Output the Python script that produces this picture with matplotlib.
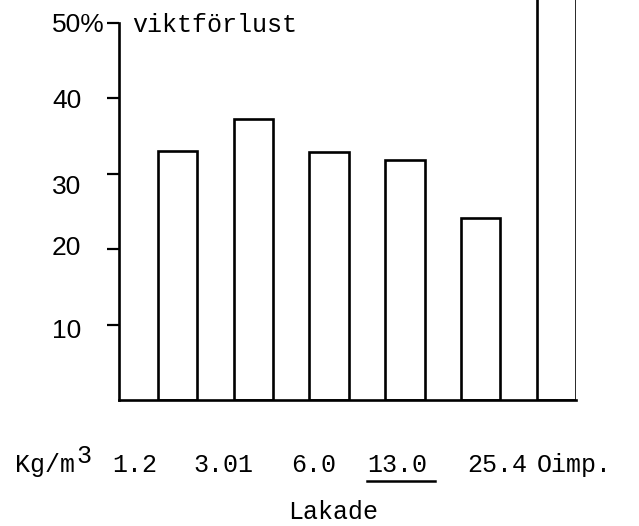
import matplotlib
matplotlib.use("Agg")
import matplotlib.pyplot as plt
from matplotlib.lines import Line2D
from matplotlib.transforms import ScaledTranslation

# ---- data ----
categories = ["1.2", "3.01", "6.0", "13.0", "25.4", "Oimp."]
weight_loss = [33.0, 37.2, 32.8, 31.8, 24.1, 60.0]   # last bar runs off the top
ytick_values = [10, 20, 30, 40, 50]
ytick_labels = ["10", "20", "30", "40", "50%"]
y_label = "viktförlust"
x_unit = "Kg/m"
x_title = "Lakade"
underlined = "13.0"

# ---- layout helpers (pixel positions, top-left origin) ----
W, H = 639, 526
def fx(px):
    return px / W
def fy(py):
    return 1 - py / H

MONO = "Liberation Mono"
SANS = "Liberation Sans"

fig = plt.figure(figsize=(W / 100, H / 100), dpi=100)
fig.patch.set_facecolor("white")

ax = fig.add_axes([fx(119), fy(400), (576 - 119) / W, 400 / H])
ax.set_facecolor("none")

x = list(range(len(categories)))
ax.bar(x, weight_loss, width=0.52, facecolor="none", edgecolor="black",
       linewidth=1.9, clip_on=True)

ax.set_ylim(0, 400 / 7.55)
ax.set_xlim(-0.772, 5.257)

for s in ("top", "right"):
    ax.spines[s].set_visible(False)
ax.spines["left"].set_bounds(0, 50)
ax.spines["left"].set_linewidth(1.9)
ax.spines["bottom"].set_linewidth(1.9)

ax.set_xticks([])
ax.set_yticks(ytick_values)
ax.set_yticklabels([])
ax.tick_params(axis="y", direction="out", length=8.5, width=1.6, color="black")

# y tick labels, left-aligned like typed text
label_offsets_px = [6, -1, 13, 3, 2]  # downward shift of each typed label
ytrans = ax.get_yaxis_transform()
for v, lab, off in zip(ytick_values, ytick_labels, label_offsets_px):
    t = ytrans + ScaledTranslation(0, -off / 100, fig.dpi_scale_trans)
    ax.text((52 - 119) / 457, v, lab, transform=t, ha="left", va="center",
            fontsize=19, family=SANS, color="black", clip_on=False)

# axis caption next to the 50% tick
fig.text(fx(132), fy(32), y_label, ha="left", va="baseline",
         fontsize=18, family=MONO, color="black")

# typed category row
fig.text(fx(15), fy(472), x_unit, ha="left", va="baseline",
         fontsize=18, family=MONO, color="black")
fig.text(fx(76), fy(463), "3", ha="left", va="baseline",
         fontsize=18, family=MONO, color="black")
cat_left_px = [112, 193, 291, 367, 467, 537]
for cat, px in zip(categories, cat_left_px):
    fig.text(fx(px), fy(472), cat, ha="left", va="baseline",
             fontsize=18, family=MONO, color="black")
    if cat == underlined:
        fig.add_artist(Line2D([fx(px), fx(px + 68)], [fy(481), fy(481)],
                              color="black", linewidth=1.8,
                              transform=fig.transFigure))

fig.text(fx(288), fy(519), x_title, ha="left", va="baseline",
         fontsize=18, family=MONO, color="black")

fig.savefig("out.png", dpi=100, facecolor="white")
